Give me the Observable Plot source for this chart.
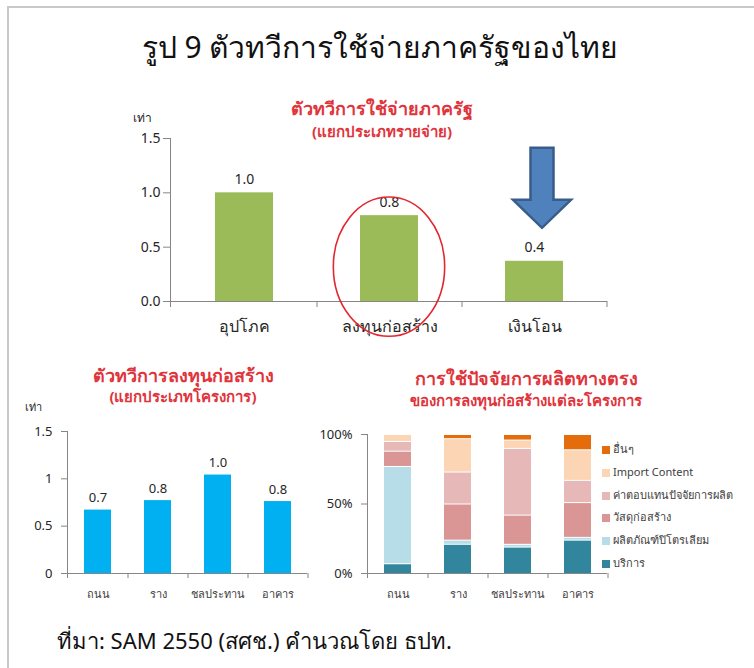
<!DOCTYPE html>
<html>
<head>
<meta charset="utf-8">
<script src="https://cdn.jsdelivr.net/npm/d3@7"></script>
<script src="https://cdn.jsdelivr.net/npm/@observablehq/plot@0.6"></script>
<style>
html,body{margin:0;padding:0;background:#fff;}
#page{position:relative;width:754px;height:668px;overflow:hidden;background:#fff;font-family:"Noto Sans","DejaVu Sans",sans-serif;}
.frame{position:absolute;left:7px;top:6px;right:-4px;bottom:-4px;border-left:2px solid #c9c9c9;border-top:2px solid #c9c9c9;}
.t{position:absolute;white-space:nowrap;transform:translate(-50%,-50%);line-height:1;}
.red{color:#e0343c;font-weight:bold;font-size:18px;}
.red2{color:#e0343c;font-weight:bold;font-size:15px;}
.unit{font-size:12px;color:#262626;}
.chart{position:absolute;}
.leg{position:absolute;font-size:11px;color:#404040;white-space:nowrap;line-height:1;}
.leg span.sw{display:inline-block;width:8px;height:8px;margin-right:3px;vertical-align:middle;}
</style>
</head>
<body>
<div id="page">
  <div class="frame"></div>
</div>
<script>
// ---------- data ----------
const mainTitle = "รูป 9 ตัวทวีการใช้จ่ายภาครัฐของไทย";
const sourceText = "ที่มา: SAM 2550 (สศช.) คำนวณโดย ธปท.";
const unitLabel = "เท่า";

const topTitle = ["ตัวทวีการใช้จ่ายภาครัฐ", "(แยกประเภทรายจ่าย)"];
const spendCats = ["อุปโภค", "ลงทุนก่อสร้าง", "เงินโอน"];
const spendVals = [1.0, 0.79, 0.37];
const spendTicks = [0, 0.5, 1.0, 1.5];
const highlightCat = "ลงทุนก่อสร้าง";
const arrowCat = "เงินโอน";

const leftTitle = ["ตัวทวีการลงทุนก่อสร้าง", "(แยกประเภทโครงการ)"];
const projCats = ["ถนน", "ราง", "ชลประทาน", "อาคาร"];
const projVals = [0.67, 0.77, 1.04, 0.76];
const projTicks = [0, 0.5, 1, 1.5];

const rightTitle = ["การใช้ปัจจัยการผลิตทางตรง", "ของการลงทุนก่อสร้างแต่ละโครงการ"];
const inputSeries = ["บริการ", "ผลิตภัณฑ์ปิโตรเลียม", "วัสดุก่อสร้าง", "ค่าตอบแทนปัจจัยการผลิต", "Import Content", "อื่นๆ"];
const inputColors = ["#31859c", "#b7dee8", "#d99694", "#e6b9b8", "#fcd5b5", "#e46c0a"];
const shareServices     = [7, 21, 19, 24];
const sharePetroleum    = [70, 3, 2, 2];
const shareMaterials    = [11, 26, 21, 25];
const shareCompensation = [7, 23, 48, 16];
const shareImport       = [5, 24, 6, 22];
const shareOther        = [0, 3, 4, 11];
const shareTicks = [0, 50, 100];

// ---------- helpers ----------
const page = document.getElementById("page");
const AX = "#868686";
const TXT = "#262626";
const FONT = '"Noto Sans","DejaVu Sans",sans-serif';
function addText(str, x, y, cls, extra) {
  const d = document.createElement("div");
  d.className = "t " + (cls || "");
  d.textContent = str;
  d.style.left = x + "px";
  d.style.top = y + "px";
  if (extra) Object.assign(d.style, extra);
  page.appendChild(d);
  return d;
}
function place(svg, left, top) {
  svg.classList.add("chart");
  svg.style.left = left + "px";
  svg.style.top = top + "px";
  page.appendChild(svg);
}
// Excel-like axis lines: vertical axis + tick marks between categories
function excelAxes(chart, cats, tickLen) {
  const xs = chart.scale("x"), ys = chart.scale("y");
  const svg = d3.select(chart);
  const g = svg.append("g").attr("stroke", AX).attr("stroke-width", 1).attr("fill", "none");
  const x0 = xs.range[0], x1 = xs.range[1];
  const y0 = ys.range[0], y1 = ys.range[1];
  g.append("line").attr("x1", x0 + 0.5).attr("x2", x0 + 0.5).attr("y1", y1).attr("y2", y0 + tickLen);
  const step = xs.step || (x1 - x0) / cats.length;
  const bw = xs.bandwidth;
  cats.forEach(c => {
    const right = xs.apply(c) + bw / 2 + step / 2;
    g.append("line").attr("x1", right + 0.5).attr("x2", right + 0.5).attr("y1", y0).attr("y2", y0 + tickLen);
  });
}

// ---------- titles ----------
addText(mainTitle, 380, 47, "", {fontSize: "30px", color: "#111"});
addText(topTitle[0], 382, 108, "red");
addText(topTitle[1], 382, 131, "red2");
addText(unitLabel, 142, 118, "unit");
addText(leftTitle[0], 183, 375, "red");
addText(leftTitle[1], 183, 396, "red2");
addText(unitLabel, 33, 406, "unit", {fontSize: "11px"});
addText(rightTitle[0], 526, 378, "red");
addText(rightTitle[1], 526, 400, "red2");
addText(sourceText, 57, 640, "", {fontSize: "22px", color: "#111", transform: "translate(0,-50%)"});

// ---------- top chart ----------
const spendData = spendCats.map((c, i) => ({cat: c, val: spendVals[i]}));
const topChart = Plot.plot({
  width: 540, height: 260,
  marginLeft: 70, marginRight: 33, marginTop: 48, marginBottom: 49,
  style: {fontFamily: FONT, fontSize: "14px", color: TXT, background: "transparent", overflow: "visible"},
  x: {domain: spendCats, paddingInner: 0.6, paddingOuter: 0.3, label: null},
  y: {domain: [0, 1.5], label: null},
  marks: [
    Plot.barY(spendData, {x: "cat", y: "val", fill: "#9bbb59"}),
    Plot.text(spendData, {x: "cat", y: "val", text: d => d3.format(".1f")(d.val), dy: -9, lineAnchor: "bottom", fontSize: 14, fill: TXT}),
    Plot.axisY({ticks: spendTicks, tickFormat: d3.format(".1f"), tickSize: 7, tickPadding: 3, stroke: AX, fill: TXT, fontSize: 14, label: null}),
    Plot.axisX({tickSize: 0, tickPadding: 19, fill: TXT, fontSize: 16, label: null}),
    Plot.ruleY([0], {stroke: AX})
  ]
});
excelAxes(topChart, spendCats, 6);
{
  const xs = topChart.scale("x"), ys = topChart.scale("y");
  const bw = xs.bandwidth, step = xs.step || bw / 0.4;
  const svg = d3.select(topChart);
  // red ellipse around highlighted bar
  const hv = spendVals[spendCats.indexOf(highlightCat)];
  svg.append("ellipse")
    .attr("cx", xs.apply(highlightCat) + bw / 2)
    .attr("cy", ys.apply(hv * 0.4))
    .attr("rx", bw * 0.96)
    .attr("ry", step * 0.48)
    .attr("fill", "none").attr("stroke", "#e3262f").attr("stroke-width", 1.6);
  // blue block arrow above the transfer bar
  const av = spendVals[spendCats.indexOf(arrowCat)];
  const cx = xs.apply(arrowCat) + bw / 2 + 8;
  const tip = ys.apply(av) - 33;
  const headLen = 28, shaftLen = 52, shaftW = 23, headW = bw;
  const pts = [
    [cx - shaftW / 2, tip - headLen - shaftLen],
    [cx + shaftW / 2, tip - headLen - shaftLen],
    [cx + shaftW / 2, tip - headLen],
    [cx + headW / 2, tip - headLen],
    [cx, tip],
    [cx - headW / 2, tip - headLen],
    [cx - shaftW / 2, tip - headLen]
  ];
  svg.append("polygon").attr("points", pts.map(p => p.join(",")).join(" "))
    .attr("fill", "#4f81bd").attr("stroke", "#385d8a").attr("stroke-width", 2.5).attr("stroke-linejoin", "miter");
}
place(topChart, 100, 90);

// ---------- bottom-left chart ----------
const projData = projCats.map((c, i) => ({cat: c, val: projVals[i]}));
const leftChart = Plot.plot({
  width: 310, height: 200,
  marginLeft: 67, marginRight: 3, marginTop: 21, marginBottom: 37,
  style: {fontFamily: FONT, fontSize: "13px", color: TXT, background: "transparent", overflow: "visible"},
  x: {domain: projCats, paddingInner: 0.55, paddingOuter: 0.275, label: null},
  y: {domain: [0, 1.5], label: null},
  marks: [
    Plot.barY(projData, {x: "cat", y: "val", fill: "#00b0f0"}),
    Plot.text(projData, {x: "cat", y: "val", text: d => d3.format(".1f")(d.val), dy: -8, lineAnchor: "bottom", fontSize: 13, fill: TXT}),
    Plot.axisY({ticks: projTicks, tickFormat: d => String(d), tickSize: 6, tickPadding: 9, stroke: AX, fill: TXT, fontSize: 13, label: null}),
    Plot.axisX({tickSize: 0, tickPadding: 17, fill: "#404040", fontSize: 11, label: null}),
    Plot.ruleY([0], {stroke: AX})
  ]
});
excelAxes(leftChart, projCats, 5);
place(leftChart, 0, 410);

// ---------- bottom-right stacked chart ----------
const shareArrays = [shareServices, sharePetroleum, shareMaterials, shareCompensation, shareImport, shareOther];
const shareData = [];
inputSeries.forEach((s, si) => projCats.forEach((c, ci) => shareData.push({series: s, cat: c, val: shareArrays[si][ci]})));
const rightChart = Plot.plot({
  width: 310, height: 200,
  marginLeft: 67, marginRight: 3, marginTop: 24, marginBottom: 37,
  style: {fontFamily: FONT, fontSize: "13px", color: TXT, background: "transparent", overflow: "visible"},
  x: {domain: projCats, paddingInner: 0.55, paddingOuter: 0.275, label: null},
  y: {domain: [0, 100], label: null},
  color: {domain: inputSeries, range: inputColors},
  marks: [
    Plot.barY(shareData, Plot.stackY({x: "cat", y: "val", z: "series", fill: "series", order: inputSeries, insetTop: 1})),
    Plot.axisY({ticks: shareTicks, tickFormat: d => d + "%", tickSize: 6, tickPadding: 9, stroke: AX, fill: TXT, fontSize: 13, label: null}),
    Plot.axisX({tickSize: 0, tickPadding: 17, fill: "#404040", fontSize: 11, label: null}),
    Plot.ruleY([0], {stroke: AX})
  ]
});
excelAxes(rightChart, projCats, 5);
place(rightChart, 300, 410);

// legend (top to bottom = reverse stack order)
const legendOrder = inputSeries.slice().reverse();
legendOrder.forEach((s, i) => {
  const d = document.createElement("div");
  d.className = "leg";
  d.style.left = "602px";
  d.style.top = (443 + i * 22.8) + "px";
  const sw = document.createElement("span");
  sw.className = "sw";
  sw.style.background = inputColors[inputSeries.indexOf(s)];
  d.appendChild(sw);
  d.appendChild(document.createTextNode(s));
  page.appendChild(d);
});
</script>
</body>
</html>
